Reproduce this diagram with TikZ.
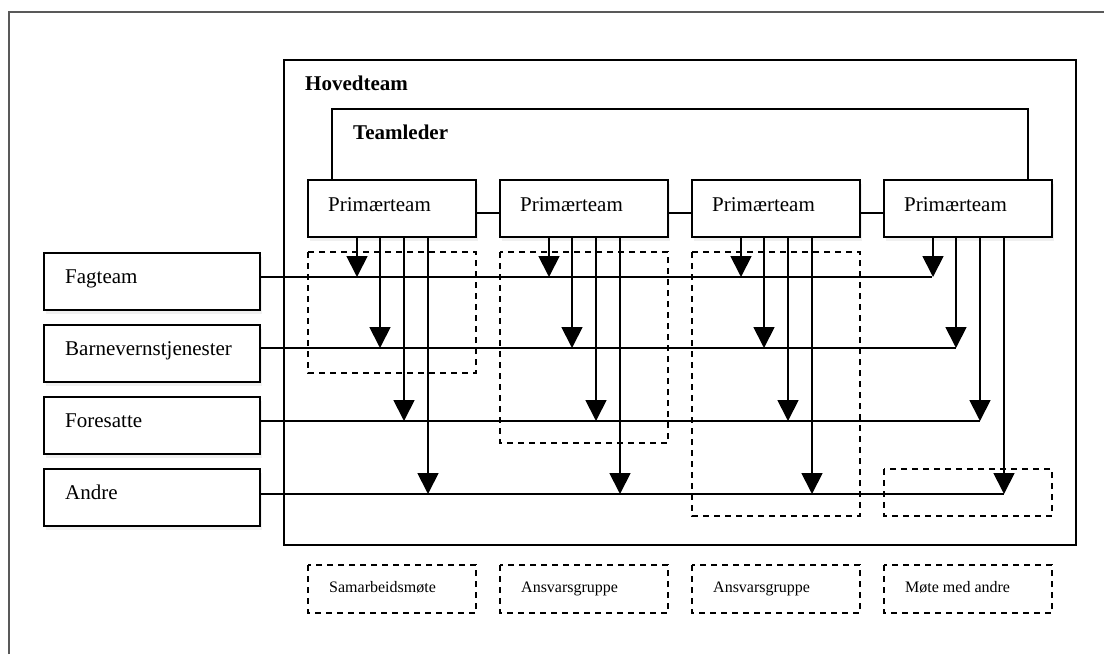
\documentclass[tikz,border=0pt]{standalone}
\usepackage{fontspec}
\setmainfont{Liberation Serif}
\usetikzlibrary{arrows.meta,shadows}
\begin{document}
\begin{tikzpicture}[x=1pt,y=-1pt,
  box/.style={draw,line width=1.8pt,fill=white,inner sep=0pt,minimum height=57pt,
    drop shadow={opacity=0.12,shadow xshift=2pt,shadow yshift=-4pt}},
  pbox/.style={box,minimum width=168pt},
  lbox/.style={box,minimum width=216pt},
  dbox/.style={draw,line width=1.8pt,dash pattern=on 6pt off 5pt},
  txt/.style={anchor=base west,inner sep=0pt,font=\fontsize{21}{25}\selectfont},
  btxt/.style={txt,font=\fontsize{21}{25}\selectfont\bfseries},
  stxt/.style={anchor=base west,inner sep=0pt,font=\fontsize{16}{19}\selectfont},
  conn/.style={line width=1.8pt},
  arr/.style={line width=1.8pt,-{Triangle[length=21pt,width=21pt]}}
]
\useasboundingbox (0,0) rectangle (1104,654);
% outer frame
\draw[line width=1.3pt,black!65] (9,654) -- (9,12) -- (1104,12);
% Hovedteam
\node[draw,line width=1.8pt,inner sep=0pt,minimum width=792pt,minimum height=485pt] (hoved) at (680,302.5) {};
\node[btxt] (hovedtxt) at (305,90) {Hovedteam};
% dashed group boxes
\draw[dbox] (308,252) rectangle (476,373);
\draw[dbox] (500,252) rectangle (668,443);
\draw[dbox] (692,252) rectangle (860,516);
\draw[dbox] (884,469) rectangle (1052,516);
% Primaerteam boxes
\node[pbox] (p1) at (392,208.5) {};
\node[pbox] (p2) at (584,208.5) {};
\node[pbox] (p3) at (776,208.5) {};
\node[pbox] (p4) at (968,208.5) {};
\foreach \i/\x in {1/308,2/500,3/692,4/884}{
  \node[txt] (pt\i) at (\x+20,211) {Primærteam};
}
% Teamleder
\coordinate (tlL) at (332,109);
\coordinate (tlR) at (1028,109);
\draw[conn] (tlL |- p1.north) -- (tlL) -- (tlR) -- (tlR |- p4.north);
\node[btxt] (tltxt) at (353,139) {Teamleder};
% links between primaerteam
\coordinate (ly) at (0,213);
\draw[conn] (p1.east |- ly) -- (p2.west |- ly);
\draw[conn] (p2.east |- ly) -- (p3.west |- ly);
\draw[conn] (p3.east |- ly) -- (p4.west |- ly);
% left boxes
\node[lbox] (fag) at (152,281.5) {};
\node[lbox] (barn) at (152,353.5) {};
\node[lbox] (fore) at (152,425.5) {};
\node[lbox] (andre) at (152,497.5) {};
\node[txt] (fagtxt) at (65,283) {Fagteam};
\node[txt] (barntxt) at (65,355) {Barnevernstjenester};
\node[txt] (foretxt) at (65,427) {Foresatte};
\node[txt] (andretxt) at (65,499) {Andre};
% horizontal lines
\coordinate (h1) at (932,277);
\coordinate (h2) at (956,348);
\coordinate (h3) at (980,421);
\coordinate (h4) at (1004,494);
\draw[conn] (fag.east |- h1) -- (h1);
\draw[conn] (barn.east |- h2) -- (h2);
\draw[conn] (fore.east |- h3) -- (h3);
\draw[conn] (andre.east |- h4) -- (h4);
% arrows
\foreach \i/\x in {1/308,2/500,3/692,4/884}{
  \coordinate (a\i a) at (\x+49,0);
  \coordinate (a\i b) at (\x+72,0);
  \coordinate (a\i c) at (\x+96,0);
  \coordinate (a\i d) at (\x+120,0);
  \draw[arr] (p\i.south -| a\i a) -- (a\i a |- h1);
  \draw[arr] (p\i.south -| a\i b) -- (a\i b |- h2);
  \draw[arr] (p\i.south -| a\i c) -- (a\i c |- h3);
  \draw[arr] (p\i.south -| a\i d) -- (a\i d |- h4);
}
% bottom legend boxes
\draw[dbox] (308,565) rectangle (476,613);
\draw[dbox] (500,565) rectangle (668,613);
\draw[dbox] (692,565) rectangle (860,613);
\draw[dbox] (884,565) rectangle (1052,613);
\node[stxt] (s1) at (329,592) {Samarbeidsmøte};
\node[stxt] (s2) at (521,592) {Ansvarsgruppe};
\node[stxt] (s3) at (713,592) {Ansvarsgruppe};
\node[stxt] (s4) at (905,592) {Møte med andre};
\end{tikzpicture}
\end{document}
